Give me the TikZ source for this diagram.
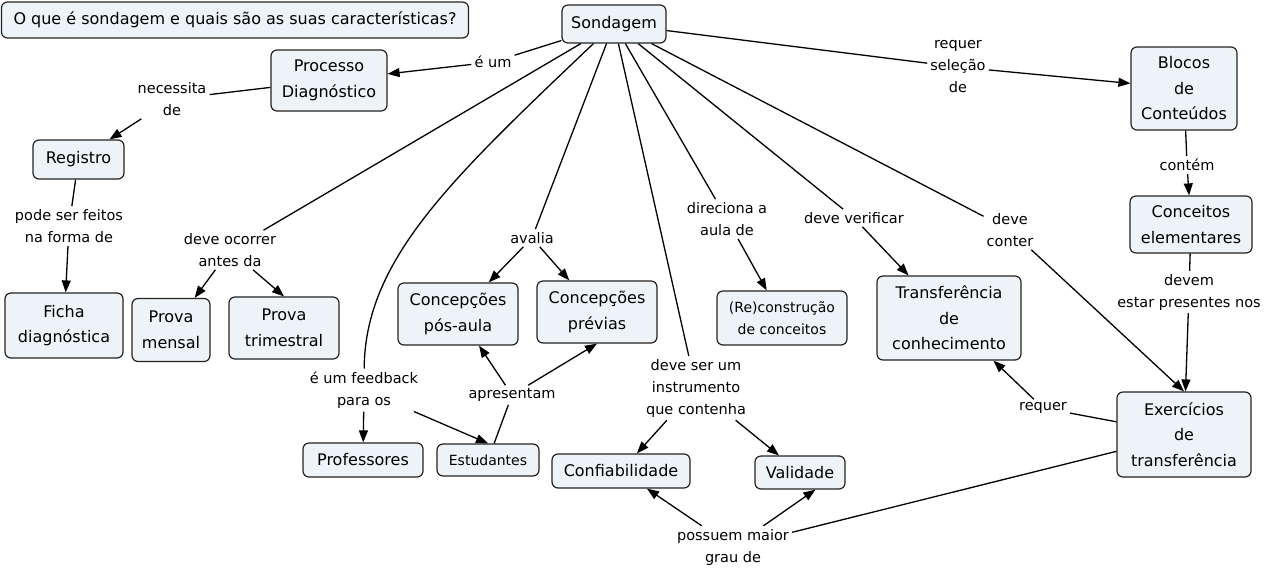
\documentclass[tikz,border=0pt]{standalone}
\usepackage{fontspec}
\setmainfont{DejaVu Sans}
\usetikzlibrary{arrows.meta}
\definecolor{cfill}{RGB}{237,243,246}
\definecolor{cline}{RGB}{35,35,35}
\begin{document}
\begin{tikzpicture}[x=1pt,y=-1pt,
  concept/.style={draw=cline, fill=cfill, line width=1.2pt, rounded corners=6pt, align=center, inner sep=2pt, font=\fontsize{16}{25.5}\selectfont},
  smallconcept/.style={concept, font=\fontsize{14}{22}\selectfont},
  lbl/.style={align=center, inner sep=3pt, font=\fontsize{14.5}{22}\selectfont},
  link/.style={draw=black, line width=1.3pt},
  arr/.style={link, -{Triangle[length=12pt,width=9pt]}}]
\useasboundingbox (0,0) rectangle (1268,571);
% concepts
\node[concept, minimum width=467pt, minimum height=36pt] (title) at (235,20) {O que é sondagem e quais são as suas características?};
\node[concept, minimum width=104pt, minimum height=38pt] (sond) at (614,24) {Sondagem};
\node[concept, minimum width=116pt, minimum height=61pt] (proc) at (329,80.5) {Processo\\Diagnóstico};
\node[concept, minimum width=91pt, minimum height=39pt] (reg) at (78.5,159.5) {Registro};
\node[concept, minimum width=118pt, minimum height=65pt] (ficha) at (64,325.5) {Ficha\\diagnóstica};
\node[concept, minimum width=78pt, minimum height=63pt] (mensal) at (171,330) {Prova\\mensal};
\node[concept, minimum width=110pt, minimum height=62pt] (trim) at (284,328) {Prova\\trimestral};
\node[concept, minimum width=120pt, minimum height=62pt] (pos) at (458,314) {Concepções\\pós-aula};
\node[concept, minimum width=120pt, minimum height=62pt] (prev) at (597,312) {Concepções\\prévias};
\node[smallconcept, minimum width=130pt, minimum height=54pt] (recon) at (782,318) {(Re)construção\\de conceitos};
\node[concept, minimum width=144pt, minimum height=84pt] (transf) at (949,318) {Transferência\\de\\conhecimento};
\node[concept, minimum width=106pt, minimum height=83pt] (blocos) at (1184,88.5) {Blocos\\de\\Conteúdos};
\node[concept, minimum width=122pt, minimum height=57pt] (celem) at (1191,224.5) {Conceitos\\elementares};
\node[concept, minimum width=134pt, minimum height=85pt] (exerc) at (1184,434.5) {Exercícios\\de\\transferência};
\node[concept, minimum width=120pt, minimum height=34pt] (prof) at (363,460) {Professores};
\node[smallconcept, minimum width=102pt, minimum height=32pt] (estud) at (488,460) {Estudantes};
\node[concept, minimum width=138pt, minimum height=34pt] (conf) at (621,471) {Confiabilidade};
\node[concept, minimum width=90pt, minimum height=33pt] (valid) at (800,472.5) {Validade};
% linking phrases
\node[lbl] (eum) at (493,62) {é um};
\node[lbl] (nec) at (172,99) {necessita\\de};
\node[lbl] (pode) at (69,226) {pode ser feitos\\na forma de};
\node[lbl] (ocorrer) at (230,250) {deve ocorrer\\antes da};
\node[lbl] (avalia) at (532,238) {avalia};
\node[lbl] (fb) at (364,390) {é um feedback\\para os};
\node[lbl] (apres) at (512,395) {apresentam};
\node[lbl] (instr) at (696,388) {deve ser um\\instrumento\\que contenha};
\node[lbl] (possuem) at (733,547) {possuem maior\\grau de};
\node[lbl] (direc) at (727,219) {direciona a\\aula de};
\node[lbl] (verif) at (854,218) {deve verificar};
\node[lbl] (requer1) at (958,67) {requer\\seleção\\de};
\node[lbl] (conter) at (1010,230) {deve\\conter};
\node[lbl] (contem) at (1187,165) {contém};
\node[lbl] (devem) at (1189,292) {devem\\estar presentes nos};
\node[lbl] (requer2) at (1043,408) {requer};
% connectors
\draw[link] (sond) -- (eum);
\draw[arr] (eum) -- (proc);
\draw[link] (proc) -- (nec);
\draw[arr] (nec) -- (reg);
\draw[link] (reg) -- (pode);
\draw[arr] (pode) -- (ficha);
\draw[link] (sond) -- (ocorrer);
\draw[arr] (ocorrer) -- (mensal);
\draw[arr] (ocorrer) -- (trim.north);
\draw[link] (sond) .. controls (450,180) and (365,260) .. (fb);
\draw[arr] (fb) -- (prof);
\draw[arr] (fb) -- (estud.north);
\draw[link] (estud) -- (apres);
\draw[arr] (apres) -- (pos);
\draw[arr] (apres) -- (prev.south);
\draw[link] (sond) -- (avalia);
\draw[arr] (avalia) -- (pos);
\draw[arr] (avalia) -- (prev);
\draw[link] (sond) -- (instr);
\draw[arr] (instr) -- (conf);
\draw[arr] (instr) -- (valid);
\draw[link] (sond) -- (direc);
\draw[arr] (direc) -- (recon);
\draw[link] (sond) -- (verif);
\draw[arr] (verif) -- (transf);
\draw[link] (sond) -- (conter);
\draw[arr] (conter) -- (exerc.north);
\draw[link] (sond) -- (requer1);
\draw[arr] (requer1) -- (blocos);
\draw[link] (blocos) -- (contem);
\draw[arr] (contem) -- (celem);
\draw[link] (celem) -- (devem);
\draw[arr] (devem) -- (exerc);
\draw[link] (exerc) -- (requer2);
\draw[arr] (requer2) -- (transf);
\draw[link] (exerc) -- (possuem);
\draw[arr] (possuem) -- (conf);
\draw[arr] (possuem) -- (valid.-48);
\end{tikzpicture}
\end{document}
